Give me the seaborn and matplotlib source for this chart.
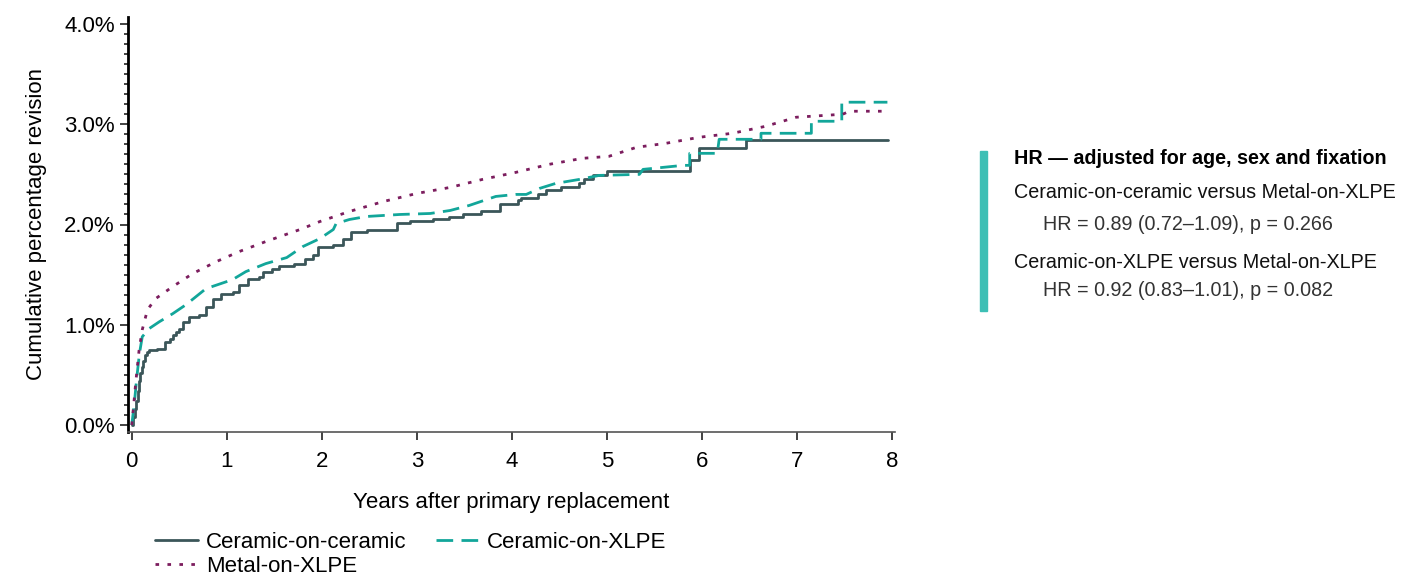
import numpy as np
import pandas as pd
import seaborn as sns
from matplotlib import pyplot as plt
from matplotlib.ticker import MultipleLocator, FuncFormatter

# cumulative percentage revision (years, %)
# ceramic-on-ceramic: step function (drawn steps-post)
coc_years = [0, 0.015, 0.03, 0.045, 0.06, 0.075, 0.09, 0.105, 0.12, 0.14, 0.16, 0.18, 0.27,
             0.35, 0.40, 0.43, 0.47, 0.50, 0.535, 0.605, 0.71, 0.78, 0.85, 0.94, 1.06, 1.13,
             1.22, 1.34, 1.38, 1.48, 1.55, 1.71, 1.82, 1.91, 1.96, 2.12, 2.22, 2.31, 2.47,
             2.79, 2.93, 3.17, 3.34, 3.48, 3.67, 3.87, 4.06, 4.09, 4.27, 4.36, 4.52, 4.70,
             4.76, 4.85, 5.0, 5.87, 5.97, 6.46, 7.96]
coc_pct = [0, 0.08, 0.16, 0.24, 0.34, 0.44, 0.52, 0.58, 0.64, 0.70, 0.73, 0.75, 0.76,
           0.83, 0.86, 0.90, 0.93, 0.96, 1.03, 1.08, 1.10, 1.18, 1.26, 1.31, 1.33, 1.40,
           1.46, 1.48, 1.53, 1.56, 1.59, 1.61, 1.66, 1.70, 1.78, 1.80, 1.86, 1.93, 1.95,
           2.01, 2.03, 2.05, 2.07, 2.10, 2.13, 2.20, 2.24, 2.26, 2.30, 2.34, 2.37, 2.41,
           2.45, 2.49, 2.53, 2.64, 2.76, 2.84, 2.84]

# ceramic-on-XLPE: drawn point to point, repeated years mark the visible jumps
cox_years = [0, 0.03, 0.05, 0.08, 0.11, 0.18, 0.29, 0.43, 0.57, 0.78, 1.06, 1.20, 1.41, 1.63,
             1.80, 1.98, 2.12, 2.15, 2.29, 2.47, 2.82, 3.14, 3.35, 3.55, 3.83, 4.04, 4.15,
             4.29, 4.46, 4.71, 4.92, 5.34, 5.38, 5.80, 5.87, 5.87, 6.16, 6.18, 6.62, 6.62,
             7.15, 7.15, 7.47, 7.47, 7.95]
cox_pct = [0, 0.25, 0.45, 0.71, 0.88, 0.96, 1.03, 1.11, 1.20, 1.36, 1.45, 1.53, 1.61, 1.67,
           1.78, 1.86, 1.95, 2.01, 2.05, 2.08, 2.10, 2.11, 2.14, 2.19, 2.28, 2.30, 2.30,
           2.36, 2.41, 2.45, 2.49, 2.50, 2.55, 2.59, 2.59, 2.71, 2.71, 2.85, 2.85, 2.91,
           2.91, 3.03, 3.03, 3.22, 3.22]

# metal-on-XLPE: smooth
mox_years = [0, 0.02, 0.04, 0.077, 0.11, 0.165, 0.25, 0.43, 0.64, 0.89, 1.13, 1.41, 1.77,
             1.98, 2.29, 2.65, 3.0, 3.35, 3.69, 4.04, 4.39, 4.74, 5.02, 5.31, 5.62, 5.97,
             6.32, 6.67, 6.99, 7.48, 7.55, 7.97]
mox_pct = [0, 0.2, 0.41, 0.75, 0.95, 1.15, 1.26, 1.38, 1.51, 1.63, 1.73, 1.83, 1.95,
           2.03, 2.13, 2.23, 2.31, 2.37, 2.45, 2.52, 2.60, 2.66, 2.68, 2.77, 2.81, 2.87,
           2.91, 2.98, 3.07, 3.10, 3.13, 3.13]

group_names = ['Ceramic-on-ceramic', 'Ceramic-on-XLPE', 'Metal-on-XLPE']
hr_title = 'HR \u2014 adjusted for age, sex and fixation'
hr_lines = [('Ceramic-on-ceramic versus Metal-on-XLPE', 'HR = 0.89 (0.72\u20131.09), p = 0.266'),
            ('Ceramic-on-XLPE versus Metal-on-XLPE', 'HR = 0.92 (0.83\u20131.01), p = 0.082')]

sns.set_style('white')
plt.rcParams['font.family'] = ['Liberation Sans', 'DejaVu Sans']
plt.rcParams['text.color'] = 'black'
plt.rcParams['axes.labelcolor'] = 'black'
plt.rcParams['xtick.color'] = 'black'
plt.rcParams['ytick.color'] = 'black'

fig = plt.figure(figsize=(14.01, 5.76), dpi=100)
ax = fig.add_axes([128 / 1401, 1 - 432 / 576, (895 - 128) / 1401, (432 - 17) / 576])

colors = ['#3b5659', '#12a69a', '#7c1d5e']
styles = ['-', (0, (6, 3)), (0, (1.3, 3))]
draws = ['steps-post', 'default', 'default']
series = [(coc_years, coc_pct), (cox_years, cox_pct), (mox_years, mox_pct)]
for name, (xs, ys), c, ls, ds in zip(group_names, series, colors, styles, draws):
    df = pd.DataFrame({'years': xs, 'pct': ys})
    sns.lineplot(data=df, x='years', y='pct', ax=ax, color=c, linestyle=ls, sort=False,
                 linewidth=2.0, drawstyle=ds, label=name, estimator=None)

ax.set_xlim(-0.04, 8.03)
ax.set_ylim(-0.07, 4.07)
ax.xaxis.set_major_locator(MultipleLocator(1))
ax.yaxis.set_major_locator(MultipleLocator(1))
ax.yaxis.set_minor_locator(MultipleLocator(0.1))
ax.yaxis.set_major_formatter(FuncFormatter(lambda v, p: f'{v:.1f}%'))
ax.tick_params(axis='both', which='major', direction='out', length=6, width=1.2,
               labelsize=16, color='#222222', bottom=True, left=True)
ax.tick_params(axis='y', which='minor', direction='out', length=3, width=1.2,
               color='#222222', left=True)
ax.tick_params(axis='x', pad=8)
for side in ['top', 'right']:
    ax.spines[side].set_visible(False)
ax.spines['left'].set_color('black')
ax.spines['left'].set_linewidth(2)
ax.spines['bottom'].set_color('#555555')
ax.spines['bottom'].set_linewidth(1.2)
ax.set_xlabel('Years after primary replacement', fontsize=16, labelpad=14)
ax.set_ylabel('Cumulative percentage revision', fontsize=16, labelpad=12)

ax.get_legend().remove()
handles, labels = ax.get_legend_handles_labels()
order = [0, 2, 1]  # legend filled row by row
fig.legend([handles[i] for i in order], [labels[i] for i in order], loc='upper left',
           bbox_to_anchor=(146 / 1401, 1 - 523 / 576), ncol=2, frameon=False, fontsize=16,
           handlelength=1.95, columnspacing=1.3, labelspacing=0.12, handletextpad=0.35,
           borderaxespad=0)

# hazard ratio box on the right
fig.patches.append(plt.Rectangle((980 / 1401, 1 - 311 / 576), 7 / 1401, 160 / 576,
                                 transform=fig.transFigure, color='#3dbfb5', zorder=2))
fig.text(1014 / 1401, 1 - 158 / 576, hr_title, fontsize=14.2, fontweight='bold', va='center')
yy = [193, 225, 262, 291]
for i, (comp, hr) in enumerate(hr_lines):
    fig.text(1014 / 1401, 1 - yy[2 * i] / 576, comp, fontsize=14.2, va='center', color='#111111')
    fig.text(1043 / 1401, 1 - yy[2 * i + 1] / 576, hr, fontsize=14.2, va='center', color='#333333')

fig.savefig('out.png', dpi=100)
